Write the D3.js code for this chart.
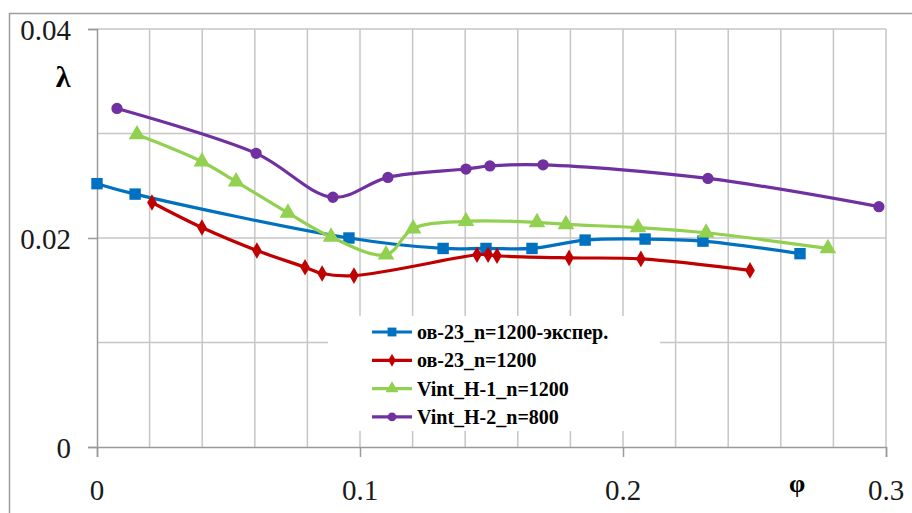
<!DOCTYPE html>
<html>
<head>
<meta charset="utf-8">
<script src="https://cdn.jsdelivr.net/npm/d3@7/dist/d3.min.js"></script>
<style>
  html, body { margin: 0; padding: 0; background: #fff; }
  svg { display: block; }
</style>
</head>
<body>
<svg id="chart" width="912" height="513"></svg>
<script>
// φ (flow coefficient) and λ (loss coefficient) for four impeller variants
const seriesNames = [
  "ов-23_n=1200-экспер.",
  "ов-23_n=1200",
  "Vint_H-1_n=1200",
  "Vint_H-2_n=800"
];

const phiExp = [0, 0.0145, 0.0958, 0.1316, 0.1479, 0.1654, 0.1856, 0.2084, 0.2304, 0.2673];
const lamExp = [0.0252, 0.0242, 0.0200, 0.0190, 0.0190, 0.0190, 0.0198, 0.0199, 0.0197, 0.0185];

const phiOv = [0.0209, 0.0399, 0.0608, 0.0791, 0.0856, 0.0977, 0.1445, 0.1487, 0.1521, 0.1795, 0.2068, 0.2483];
const lamOv = [0.0234, 0.0210, 0.0188, 0.0172, 0.0166, 0.0164, 0.0184, 0.0184, 0.0183, 0.0181, 0.0180, 0.0169];

const phiH1 = [0.0152, 0.0399, 0.0529, 0.0726, 0.0890, 0.1099, 0.1202, 0.1403, 0.1673, 0.1783, 0.2057, 0.2316, 0.2779];
const lamH1 = [0.0299, 0.0273, 0.0254, 0.0224, 0.0201, 0.0184, 0.0209, 0.0216, 0.0215, 0.0213, 0.0210, 0.0205, 0.0190];

const phiH2 = [0.0076, 0.0605, 0.0897, 0.1106, 0.1403, 0.1494, 0.1696, 0.2323, 0.2973];
const lamH2 = [0.0324, 0.0281, 0.0239, 0.0258, 0.0266, 0.0269, 0.0270, 0.0257, 0.0230];

const xTickValues = [0, 0.1, 0.2, 0.3];
const xTickLabels = ["0", "0.1", "0.2", "0.3"];
const yTickValues = [0, 0.02, 0.04];
const yTickLabels = ["0", "0.02", "0.04"];

const colors = ["#0070C0", "#C00000", "#92D050", "#7030A0"];
const symbols = [d3.symbolSquare, d3.symbolDiamond, d3.symbolTriangle, d3.symbolCircle];
const symbolSizes = [130, 80, 120, 100];

const series = [
  { name: seriesNames[0], xs: phiExp, ys: lamExp },
  { name: seriesNames[1], xs: phiOv, ys: lamOv },
  { name: seriesNames[2], xs: phiH1, ys: lamH1 },
  { name: seriesNames[3], xs: phiH2, ys: lamH2 }
];

const serif = '"Liberation Serif"';

const svg = d3.select("#chart");
const plot = { left: 97, top: 29, right: 886, bottom: 447 };

const x = d3.scaleLinear().domain([0, 0.3]).range([plot.left, plot.right]);
const y = d3.scaleLinear().domain([0, 0.04]).range([plot.bottom, plot.top]);

// outer chart frame
svg.append("path")
  .attr("d", `M9.5,513 L9.5,13.5 L912,13.5`)
  .attr("fill", "none").attr("stroke", "#9c9c9c").attr("stroke-width", 1.5);

// gridlines
const grid = svg.append("g").attr("stroke", "#c6c6c6").attr("stroke-width", 1.5);
x.ticks(15).filter(v => v > 0).forEach(v => {
  grid.append("line")
    .attr("x1", x(v)).attr("x2", x(v))
    .attr("y1", plot.top).attr("y2", plot.bottom);
});
y.ticks(4).filter(v => v > 0).forEach(v => {
  grid.append("line")
    .attr("x1", plot.left).attr("x2", plot.right)
    .attr("y1", y(v)).attr("y2", y(v));
});

// axes
const axisColor = "#9a9a9a";
const gx = svg.append("g").attr("transform", `translate(0,${plot.bottom})`)
  .call(d3.axisBottom(x).tickValues(xTickValues).tickSize(10).tickFormat(() => ""));
const gy = svg.append("g").attr("transform", `translate(${plot.left},0)`)
  .call(d3.axisLeft(y).tickValues(yTickValues).tickSize(9).tickFormat(() => ""));
[gx, gy].forEach(g => {
  g.select(".domain").attr("stroke", axisColor).attr("stroke-width", 1.5);
  g.selectAll(".tick line").attr("stroke", axisColor).attr("stroke-width", 1.5);
});

// tick labels
svg.append("g").selectAll("text").data(xTickValues).join("text")
  .style("font-family", serif).style("font-size", "29px")
  .attr("x", d => x(d)).attr("y", 500)
  .attr("text-anchor", "middle").attr("fill", "#1a1a1a")
  .text((d, i) => xTickLabels[i]);
svg.append("g").selectAll("text").data(yTickValues).join("text")
  .style("font-family", serif).style("font-size", "29px")
  .attr("x", 71).attr("y", d => y(d) + 10.5)
  .attr("text-anchor", "end").attr("fill", "#1a1a1a")
  .text((d, i) => yTickLabels[i]);

// axis titles
svg.append("text").attr("x", 63).attr("y", 87).attr("text-anchor", "middle")
  .style("font-family", serif).style("font-weight", "bold").style("font-size", "30px")
  .attr("fill", "#000").text("λ");
svg.append("text").attr("x", 797).attr("y", 492).attr("text-anchor", "middle")
  .style("font-family", serif).style("font-weight", "bold").style("font-size", "26px")
  .attr("fill", "#000").text("φ");

// series lines and markers
const line = d3.line().curve(d3.curveCatmullRom.alpha(0.5));
series.forEach((s, i) => {
  const pts = s.xs.map((v, j) => [x(v), y(s.ys[j])]);
  svg.append("path").attr("d", line(pts))
    .attr("fill", "none").attr("stroke", colors[i]).attr("stroke-width", 3.2)
    .attr("stroke-linejoin", "round").attr("stroke-linecap", "round");
  svg.append("g").selectAll("path").data(pts).join("path")
    .attr("transform", d => `translate(${d[0]},${d[1]})`)
    .attr("d", d3.symbol().type(symbols[i]).size(symbolSizes[i]))
    .attr("fill", colors[i]);
});

// legend
const legend = svg.append("g");
legend.append("rect").attr("x", 328).attr("y", 316).attr("width", 332).attr("height", 115)
  .attr("fill", "#fff");
series.forEach((s, i) => {
  const cy = 332 + i * 28.3;
  legend.append("line").attr("x1", 372).attr("x2", 412).attr("y1", cy).attr("y2", cy)
    .attr("stroke", colors[i]).attr("stroke-width", 3.2);
  legend.append("path").attr("transform", `translate(392,${cy})`)
    .attr("d", d3.symbol().type(symbols[i]).size(symbolSizes[i] * 0.6))
    .attr("fill", colors[i]);
  legend.append("text").attr("x", 417).attr("y", cy + 7)
    .style("font-family", serif).style("font-weight", "bold").style("font-size", "20px")
    .attr("fill", "#000").text(s.name);
});
</script>
</body>
</html>
